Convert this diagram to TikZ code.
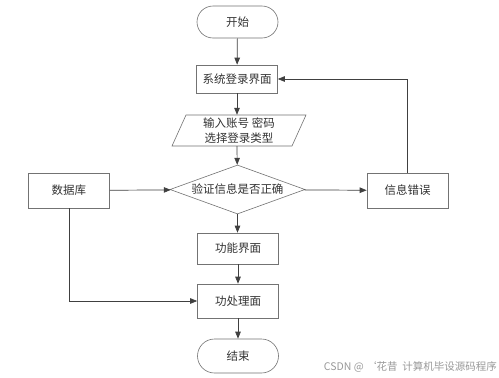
\documentclass[tikz,border=0pt]{standalone}
\usepackage{fontspec}
\setmainfont{Noto Sans CJK SC}
\usetikzlibrary{shapes.geometric,shapes.misc,arrows.meta}
\begin{document}
\begin{tikzpicture}[x=1pt,y=-1pt,
  font=\fontsize{11.5}{15}\selectfont,
  box/.style={draw=black!55,line width=0.6pt,inner sep=0pt,text=black!80},
  proc/.style={box,rectangle,minimum width=81pt,minimum height=31pt},
  term/.style={box,rounded rectangle,minimum width=81pt,minimum height=32pt},
  arr/.style={draw=black!75,line width=0.7pt,-{Triangle[length=7pt,width=5.5pt]}}]
\useasboundingbox[fill=white] (0,0) rectangle (499,378);
\node[term] (start) at (237.5,22) {开始};
\node[proc,minimum height=28pt] (login) at (237,79) {系统登录界面};
\node[inner sep=0pt,minimum width=120pt,minimum height=31pt,align=center,text=black!80,font=\fontsize{11.5}{15}\selectfont] (input) at (239,130.5) {输入账号 密码\\选择登录类型};
\draw[draw=black!55,line width=0.6pt] (186,115) -- (306,115) -- (292,146) -- (172,146) -- cycle;
\node[box,diamond,minimum width=135pt,minimum height=49pt,aspect=2.75] (check) at (237.5,189.5) {验证信息是否正确};
\node[proc,minimum height=35pt] (db) at (69,190.5) {数据库};
\node[proc,minimum height=35pt] (err) at (407.5,190.5) {信息错误};
\node[proc] (func) at (238,248.5) {功能界面};
\node[proc,minimum height=34pt] (proc) at (238,301) {功处理面};
\node[term,minimum height=34pt] (end) at (238,356) {结束};
\node[anchor=east,text=black!40,font=\fontsize{10.5}{12}\selectfont,inner sep=0pt] (wm) at (497,367) {CSDN @ ‘花昔\ \ 计算机毕设源码程序};
\coordinate (c1) at (err.north |- login.east);
\coordinate (c2) at (db.south |- proc.west);
\draw[arr] (start) -- (login);
\draw[arr] (login) -- (input.north -| login.south);
\draw[arr] (input.south -| login.south) -- (check);
\draw[arr] (check) -- (check.south |- func.north);
\draw[arr] (func) -- (proc);
\draw[arr] (proc) -- (end);
\draw[arr] (db) -- (check);
\draw[arr] (check) -- (err);
\draw[arr] (err.north) -- (c1) -- (login.east);
\draw[arr] (db.south) -- (c2) -- (proc.west);
\end{tikzpicture}
\end{document}
